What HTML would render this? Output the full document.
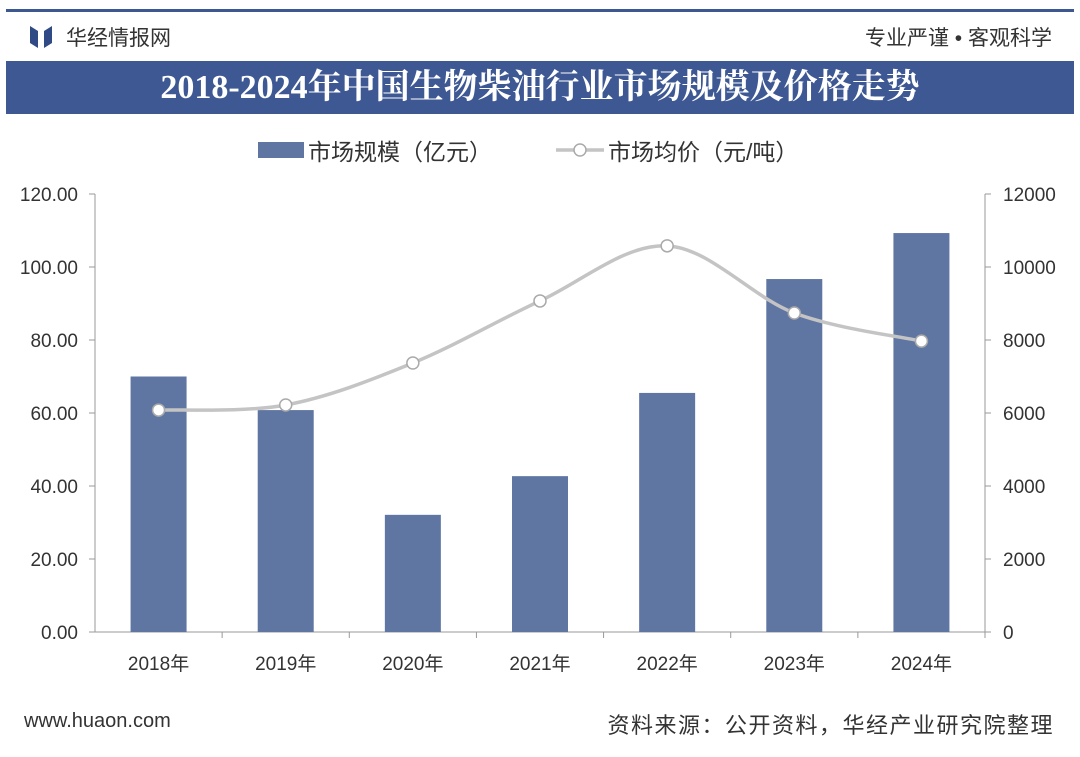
<!DOCTYPE html>
<html><head><meta charset="utf-8"><style>
body{margin:0;width:1080px;height:757px;background:#fff;overflow:hidden;font-family:"Liberation Sans","Noto Sans CJK SC",sans-serif;position:relative}
.a{position:absolute}
</style></head><body>
<div class="a" style="left:6px;top:9px;width:1068px;height:3px;background:#3d5791"></div>
<div class="a" style="left:30px;top:26px;width:22px;height:22px;">
<svg width="22" height="22"><path d="M0 0L8 5V22L0 17Z M22 0L14 5V22L22 17Z" fill="#2f4a85"/></svg></div>
<div class="a" style="left:66px;top:22px;font-size:21px;color:#333">华经情报网</div>
<div class="a" style="right:28px;top:22px;font-size:21px;color:#333">专业严谨 • 客观科学</div>
<div class="a" style="left:6px;top:61px;width:1068px;height:53px;background:#3e5893;color:#fff;font-family:'Liberation Serif','Noto Serif CJK SC',serif;font-weight:bold;font-size:34px;line-height:53px;text-align:center">2018-2024年中国生物柴油行业市场规模及价格走势</div>
<svg class="a" style="left:0;top:0" width="1080" height="757" id="chart"></svg>
<div class="a" style="left:24px;top:710px;font-size:20px;color:#333">www.huaon.com</div>
<div class="a" style="right:26px;top:708px;font-size:22px;letter-spacing:1.5px;color:#333">资料来源：公开资料，华经产业研究院整理</div>
<script>
const categories=["2018年","2019年","2020年","2021年","2022年","2023年","2024年"];
const marketSize=[70,60.8,32.1,42.7,65.5,96.7,109.3];
const avgPrice=[6080,6220,7370,9070,10580,8740,7970];
const leftTicks=[0,20,40,60,80,100,120];
const rightTicks=[0,2000,4000,6000,8000,10000,12000];
const svg=document.getElementById('chart');const NS='http://www.w3.org/2000/svg';
const X0=95,X1=985,Y0=632,Y1=194;
const step=(X1-X0)/categories.length;
const xc=i=>X0+step*(i+0.5);
const yl=v=>Y0-(v/120)*(Y0-Y1);
const yr=v=>Y0-(v/12000)*(Y0-Y1);
function mk(t,at,p){const e=document.createElementNS(NS,t);for(const k in at)e.setAttribute(k,at[k]);(p||svg).appendChild(e);return e;}
let ax=mk('line',{x1:X0,y1:Y1,x2:X0,y2:Y0,stroke:'#999'});


ax=mk('line',{x1:X1,y1:Y1,x2:X1,y2:Y0,stroke:'#999'});


ax=mk('line',{x1:X0,y1:Y0,x2:X1,y2:Y0,stroke:'#999'});


leftTicks.forEach(v=>{mk('line',{x1:X0-6,y1:yl(v),x2:X0,y2:yl(v),stroke:'#999'});
const t=mk('text',{x:X0-17,y:yl(v)+7,'text-anchor':'end','font-size':19,fill:'#333'});t.textContent=v.toFixed(2);

});
rightTicks.forEach(v=>{mk('line',{x1:X1,y1:yr(v),x2:X1+6,y2:yr(v),stroke:'#999'});
const t=mk('text',{x:X1+18,y:yr(v)+7,'font-size':19,fill:'#333'});t.textContent=v;

});
categories.forEach((c,i)=>{mk('line',{x1:X0+step*(i+1),y1:Y0,x2:X0+step*(i+1),y2:Y0+6,stroke:'#999'});
const b=mk('rect',{x:xc(i)-28,y:yl(marketSize[i]),width:56,height:Y0-yl(marketSize[i]),fill:'#5f76a3'});


const t=mk('text',{x:xc(i),y:670,'text-anchor':'middle','font-size':19,fill:'#333'});t.textContent=c;

});
const pts=avgPrice.map((v,i)=>[xc(i),yr(v)]);
let d='M'+pts[0];for(let i=0;i<pts.length-1;i++){const p0=pts[i-1]||pts[i],p1=pts[i],p2=pts[i+1],p3=pts[i+2]||p2;
d+=`C${p1[0]+(p2[0]-p0[0])/6},${p1[1]+(p2[1]-p0[1])/6} ${p2[0]-(p3[0]-p1[0])/6},${p2[1]-(p3[1]-p1[1])/6} ${p2[0]},${p2[1]}`;}
const ln=mk('path',{d:d,fill:'none',stroke:'#c4c4c4','stroke-width':3.5});


pts.forEach(p=>{const c=mk('circle',{cx:p[0],cy:p[1],r:6,fill:'#fff',stroke:'#aaa','stroke-width':1.5});

});
let l=mk('rect',{x:258,y:142,width:46,height:16,fill:'#5f76a3'});


let lt=mk('text',{x:308,y:160,'font-size':23,fill:'#333'});lt.textContent='市场规模（亿元）';


l=mk('line',{x1:556,y1:150,x2:604,y2:150,stroke:'#c4c4c4','stroke-width':3.5});


mk('circle',{cx:580,cy:150,r:6,fill:'#fff',stroke:'#aaa','stroke-width':1.5});
lt=mk('text',{x:608,y:160,'font-size':23,fill:'#333'});lt.textContent='市场均价（元/吨）';


</script>
</body></html>
